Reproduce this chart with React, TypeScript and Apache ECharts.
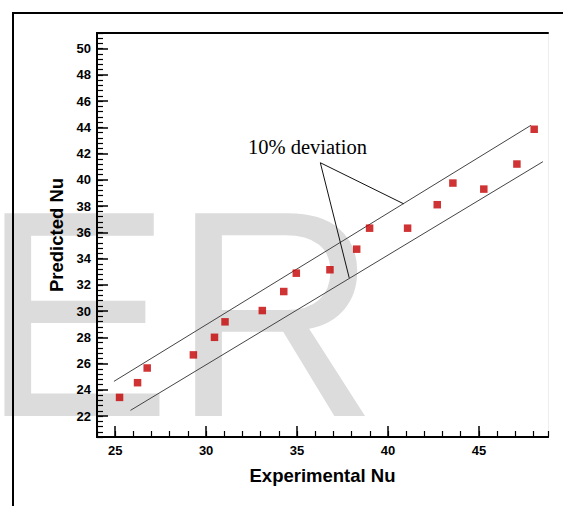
import React, { useEffect, useRef } from "react";
import * as echarts from "echarts";

// Measured vs. correlated Nusselt numbers
const experimentalNu = [25.24, 26.23, 26.76, 29.3, 30.46, 31.04, 33.09, 34.27, 34.96, 36.81, 38.28, 38.99, 41.08, 42.71, 43.57, 45.27, 47.09, 48.04];
const predictedNu = [23.42, 24.54, 25.66, 26.66, 28.0, 29.18, 30.04, 31.49, 32.89, 33.15, 34.72, 36.32, 36.32, 38.11, 39.76, 39.3, 41.21, 43.86];

// 10% deviation band edges (start / end points)
const upperBandX = [24.93, 47.86];
const upperBandY = [24.64, 44.16];
const lowerBandX = [25.84, 48.52];
const lowerBandY = [22.43, 41.39];

// Leader lines from the annotation to each band edge
const leaderX = [40.86, 36.28, 37.87];
const leaderY = [38.18, 41.31, 32.53];

// Axis ticks
const xMajorTicks = [25, 30, 35, 40, 45];
const yMajorTicks = [22, 24, 26, 28, 30, 32, 34, 36, 38, 40, 42, 44, 46, 48, 50];

const X_MIN = 24;
const X_MAX = 48.8;
const Y_MIN = 20.4;
const Y_MAX = 51.2;

const pairs = (xs: number[], ys: number[]) => xs.map((x, i) => [x, ys[i]]);

export default function App() {
  const ref = useRef<HTMLDivElement>(null);

  useEffect(() => {
    if (!ref.current) return;
    const chart = echarts.init(ref.current, null, { renderer: "svg" });
    const sans = "Liberation Sans, Arial, sans-serif";

    const hidden = { show: false };
    const baseX = { type: "value", min: X_MIN, max: X_MAX, splitLine: hidden };
    const baseY = { type: "value", min: Y_MIN, max: Y_MAX, splitLine: hidden };

    chart.setOption({
      animation: false,
      backgroundColor: "#ffffff",
      grid: { left: 97, top: 33, right: 15, bottom: 69, containLabel: false },
      graphic: [
        {
          type: "text",
          z: -10,
          silent: true,
          x: -19,
          y: 314,
          scaleY: 1.03,
          style: {
            text: "ER",
            font: "286px Liberation Sans, Arial, sans-serif",
            fill: "#dcdcdc",
            verticalAlign: "middle",
            align: "left",
          },
        },
        {
          type: "polyline",
          z: 5,
          silent: true,
          shape: { points: [[13, 520], [13, 13], [580, 13]] },
          style: { stroke: "#000", lineWidth: 2, fill: "none" },
        },
        {
          type: "text",
          z: 10,
          x: 248,
          y: 147,
          style: {
            text: "10% deviation",
            font: "20.5px Liberation Serif, Times New Roman, serif",
            fill: "#000",
            verticalAlign: "middle",
            align: "left",
          },
        },
      ],
      xAxis: [
        {
          ...baseX,
          position: "bottom",
          name: "Experimental Nu",
          nameLocation: "middle",
          nameGap: 29,
          nameTextStyle: { fontFamily: sans, fontWeight: "bold", fontSize: 18.5, color: "#000" },
          axisLine: { lineStyle: { color: "#000", width: 2 } },
          axisTick: { inside: true, length: 11, customValues: xMajorTicks, lineStyle: { color: "#000", width: 1.5 } },
          axisLabel: { customValues: xMajorTicks, margin: 7, fontFamily: sans, fontWeight: "bold", fontSize: 13, color: "#000" },
        },
        {
          ...baseX,
          position: "bottom",
          interval: 1,
          axisLine: { lineStyle: { color: "#000", width: 2 } },
          axisTick: { inside: true, length: 6, lineStyle: { color: "#000", width: 1.2 } },
          axisLabel: hidden,
        },
        {
          ...baseX,
          position: "top",
          axisLine: { lineStyle: { color: "#000", width: 2 } },
          axisTick: hidden,
          axisLabel: hidden,
        },
      ],
      yAxis: [
        {
          ...baseY,
          position: "left",
          name: "Predicted Nu",
          nameLocation: "middle",
          nameRotate: 90,
          nameGap: 31,
          nameTextStyle: { fontFamily: sans, fontWeight: "bold", fontSize: 18.5, color: "#000" },
          axisLine: { lineStyle: { color: "#000", width: 2 } },
          axisTick: { inside: true, length: 11, customValues: yMajorTicks, lineStyle: { color: "#000", width: 1.5 } },
          axisLabel: { customValues: yMajorTicks, margin: 6, fontFamily: sans, fontWeight: "bold", fontSize: 13, color: "#000" },
        },
        {
          ...baseY,
          position: "left",
          interval: 0.4,
          axisLine: { lineStyle: { color: "#000", width: 2 } },
          axisTick: { inside: true, length: 6, lineStyle: { color: "#000", width: 1.2 } },
          axisLabel: hidden,
        },
        {
          ...baseY,
          position: "right",
          axisLine: { lineStyle: { color: "#eeeeee", width: 1 } },
          axisTick: hidden,
          axisLabel: hidden,
        },
      ],
      series: [
        {
          type: "line",
          data: pairs(upperBandX, upperBandY),
          symbol: "none",
          lineStyle: { color: "#444", width: 1 },
          silent: true,
          z: 3,
        },
        {
          type: "line",
          data: pairs(lowerBandX, lowerBandY),
          symbol: "none",
          lineStyle: { color: "#444", width: 1 },
          silent: true,
          z: 3,
        },
        {
          type: "line",
          data: pairs(leaderX, leaderY),
          symbol: "none",
          lineStyle: { color: "#111", width: 1 },
          silent: true,
          z: 3,
        },
        {
          type: "scatter",
          data: pairs(experimentalNu, predictedNu),
          symbol: "rect",
          symbolSize: 7.5,
          itemStyle: { color: "#c40000" },
          z: 4,
        },
      ],
    });

    return () => chart.dispose();
  }, []);

  return (
    <div
      ref={ref}
      style={{ position: "fixed", left: 0, top: 0, width: 563, height: 506 }}
    />
  );
}
